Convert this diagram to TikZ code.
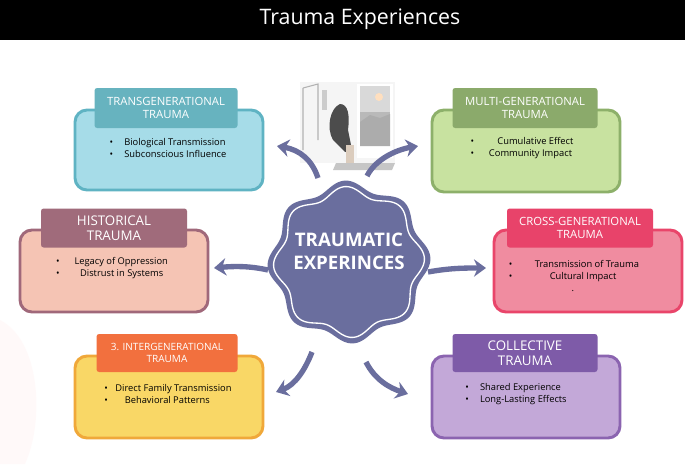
\documentclass[tikz,border=0pt]{standalone}
\usepackage{fontspec}
\setmainfont{Open Sans}
\begin{document}
\begin{tikzpicture}[x=0.75pt,y=-0.75pt,
 box/.style={rounded corners=9pt,line width=2.2pt},
 head/.style={rounded corners=2pt,text=white,align=center,font=\fontsize{8.5}{9.5}\selectfont,inner sep=0pt},
 bul/.style={align=left,font=\fontsize{7}{9}\selectfont,inner sep=0pt},
 arr/.style={line width=4pt,color=arrc,-{Stealth[length=9pt,width=13pt]}}]
\usetikzlibrary{arrows.meta}
\definecolor{arrc}{HTML}{6A6E9E}
\useasboundingbox (0,0) rectangle (685,464);
\fill[white] (0,0) rectangle (685,464);
\fill[pink!20,opacity=0.4] (0,320) .. controls (40,340) and (45,420) .. (25,464) -- (0,464) -- cycle;
\fill[black] (0,0) rectangle (685,40);
\node[text=white,font=\fontsize{16}{18}\selectfont] (title) at (360,19) {Trauma Experiences};
% boxes
\filldraw[box,fill={rgb,255:red,166;green,220;blue,232},draw={rgb,255:red,95;green,179;blue,195}] (75,110) rectangle (263,190);
\filldraw[box,fill={rgb,255:red,200;green,226;blue,160},draw={rgb,255:red,141;green,176;blue,106}] (432,110) rectangle (620,192);
\filldraw[box,fill={rgb,255:red,245;green,196;blue,180},draw={rgb,255:red,160;green,104;blue,122}] (20,230) rectangle (208,312);
\filldraw[box,fill={rgb,255:red,240;green,140;blue,160},draw={rgb,255:red,233;green,69;blue,106}] (494,230) rectangle (682,312);
\filldraw[box,fill={rgb,255:red,249;green,215;blue,102},draw={rgb,255:red,240;green,168;blue,58}] (75,356) rectangle (263,438);
\filldraw[box,fill={rgb,255:red,195;green,168;blue,216},draw={rgb,255:red,139;green,100;blue,176}] (432,356) rectangle (620,438);
% headers
\node[head,fill={rgb,255:red,103;green,179;blue,191},minimum width=143*0.75pt,minimum height=40*0.75pt] (h1) at (166,108) {TRANSGENERATIONAL\\TRAUMA};
\node[head,fill={rgb,255:red,139;green,170;blue,107},minimum width=145*0.75pt,minimum height=40*0.75pt] (h2) at (525,108) {MULTI-GENERATIONAL\\TRAUMA};
\node[head,fill={rgb,255:red,160;green,107;blue,123},minimum width=146*0.75pt,minimum height=39*0.75pt,font=\fontsize{10}{11}\selectfont] (h3) at (114,228) {HISTORICAL\\TRAUMA};
\node[head,fill={rgb,255:red,232;green,67;blue,106},minimum width=146*0.75pt,minimum height=39*0.75pt] (h4) at (580,228) {CROSS-GENERATIONAL\\TRAUMA};
\node[head,fill={rgb,255:red,242;green,112;blue,62},minimum width=141*0.75pt,minimum height=38*0.75pt,font=\fontsize{7.5}{8.5}\selectfont] (h5) at (167,353) {3. INTERGENERATIONAL\\TRAUMA};
\node[head,fill={rgb,255:red,126;green,91;blue,168},minimum width=145*0.75pt,minimum height=38*0.75pt,font=\fontsize{10}{11}\selectfont] (h6) at (525,353) {COLLECTIVE\\TRAUMA};
% bullets
\node[bul] (b1) at (168,148) {\textbullet\hspace{1.2em}Biological Transmission\\\textbullet\hspace{1.2em}Subconscious Influence};
\node[bul] (b2) at (522,148) {\textbullet\hspace{2.5em}Cumulative Effect\\\textbullet\hspace{1.6em}Community Impact};
\node[bul] (b3) at (112,268) {\textbullet\hspace{1.6em}Legacy of Oppression\\\textbullet\hspace{2.2em}Distrust in Systems};
\node[bul] (b4) at (574,276) {\textbullet\hspace{2.4em}Transmission of Trauma\\\textbullet\hspace{4em}Cultural Impact\\\hspace{6.7em}.};
\node[bul] (b5) at (168,394) {\textbullet\hspace{0.8em}Direct Family Transmission\\\textbullet\hspace{1.8em}Behavioral Patterns};
\node[bul] (b6) at (516,394) {\textbullet\hspace{1.2em}Shared Experience\\\textbullet\hspace{1.2em}Long-Lasting Effects};
% illustration
\fill[gray!8] (300,82) rectangle (395,163);
\draw[gray!60,line width=0.8pt] (303,88) -- (303,150) (303,88) -- (318,84) -- (318,140);
\fill[gray!40] (322,90) rectangle (327,110);
\fill[white] (357,84) rectangle (393,158);
\fill[gray!55] (360,86) rectangle (390,146);
\fill[gray!30] (360,86) rectangle (390,112);
\fill[gray!65] (360,122) -- (370,115) -- (380,118) -- (390,114) -- (390,146) -- (360,146) -- cycle;
\fill[orange!25] (379,97) circle (4);
\fill[gray!60!black] (333,140) .. controls (326,128) and (330,108) .. (340,104) .. controls (348,104) and (350,115) .. (348,130) -- (352,150) -- (345,152) -- cycle;
\fill[orange!30!gray!40] (346,145) rectangle (354,165);
\fill[gray!45] (336,163) -- (395,163) -- (392,170) -- (333,170) -- cycle;
% center shape
\fill[arrc] plot[domain=0:360,samples=240,smooth] ({349+(77+4.5*cos(8*\x+22.5))*cos(\x)},{262+(77+4.5*cos(8*\x+22.5))*sin(\x)});
\draw[white,line width=1pt] plot[domain=0:360,samples=240,smooth] ({349+(71+4.5*cos(8*\x+22.5))*cos(\x)},{262+(71+4.5*cos(8*\x+22.5))*sin(\x)});
\node[text=white,font=\bfseries\fontsize{14}{17}\selectfont,align=center] (c) at (349,251) {TRAUMATIC\\EXPERINCES};
% arrows
\coordinate (s1) at (318,178); \coordinate (s2) at (367,176);
\coordinate (s3) at (268,270); \coordinate (s4) at (428,272);
\coordinate (s5) at (312,352); \coordinate (s6) at (366,362);
\draw[arr] (s1) .. controls (312,160) and (300,150) .. (277,146);
\draw[arr] (s2) .. controls (375,160) and (395,150) .. (418,146);
\draw[arr] (s3) .. controls (250,266) and (235,266) .. (214,268);
\draw[arr] (s4) .. controls (450,268) and (465,268) .. (486,268);
\draw[arr] (s5) .. controls (305,370) and (295,385) .. (276,392);
\draw[arr] (s6) .. controls (375,380) and (390,388) .. (408,394);
\end{tikzpicture}
\end{document}
